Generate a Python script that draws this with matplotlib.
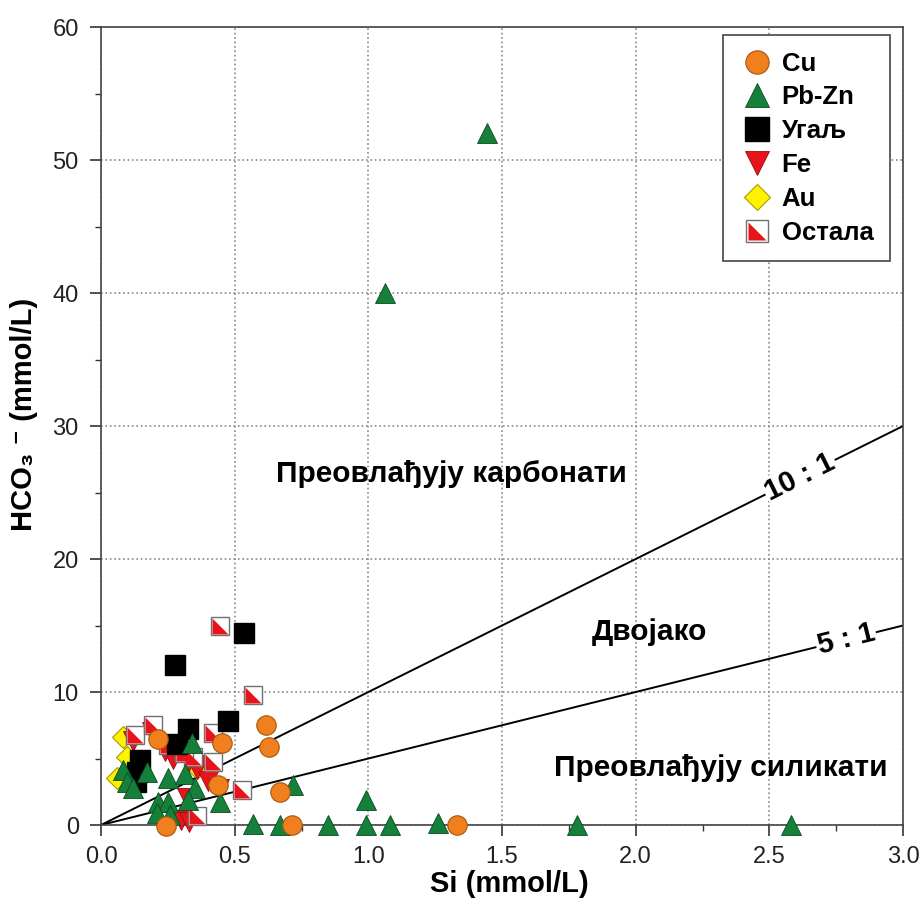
import numpy as np
import matplotlib
matplotlib.use('Agg')
import matplotlib.pyplot as plt
from matplotlib.path import Path as MPath
from matplotlib.ticker import MultipleLocator, FormatStrFormatter

plt.rcParams['font.family'] = ['Liberation Sans', 'DejaVu Sans']

# Si (mmol/L) vs HCO3- (mmol/L)
cu_si = [0.213, 0.453, 0.617, 0.628, 0.438, 0.67, 0.243, 0.715, 1.33]
cu_hco3 = [6.5, 6.2, 7.5, 5.9, 3.0, 2.5, -0.1, 0.0, 0.0]

pbzn_si = [1.444, 1.062, 0.718, 0.99, 0.85, 0.99, 1.08, 1.26, 0.57, 0.67, 1.78, 2.58,
           0.445, 0.083, 0.172, 0.097, 0.12, 0.25, 0.314, 0.35, 0.213, 0.25, 0.21,
           0.258, 0.325, 0.34]
pbzn_hco3 = [52.0, 40.0, 3.0, 1.9, 0.0, 0.0, 0.0, 0.15, 0.1, 0.0, 0.0, 0.0,
             1.7, 4.1, 4.0, 3.2, 2.8, 3.5, 3.8, 2.8, 1.7, 1.7, 0.9,
             0.75, 1.9, 6.2]

coal_si = [0.277, 0.535, 0.475, 0.325, 0.285, 0.146, 0.135, 0.13]
coal_hco3 = [12.0, 14.4, 7.8, 7.2, 6.1, 4.9, 4.0, 3.2]

fe_si = [0.12, 0.24, 0.27, 0.33, 0.36, 0.40, 0.40, 0.32, 0.30, 0.33, 0.19, 0.44]
fe_hco3 = [6.3, 5.6, 5.0, 4.8, 4.2, 4.5, 3.3, 2.0, 0.4, 0.2, 7.0, 2.7]

au_si = [0.06, 0.083, 0.097, 0.36]
au_hco3 = [3.5, 6.6, 5.1, 4.3]

other_si = [0.445, 0.57, 0.527, 0.127, 0.195, 0.345, 0.42, 0.42, 0.36, 0.31, 0.25]
other_hco3 = [15.0, 9.8, 2.6, 6.8, 7.5, 5.1, 4.7, 6.9, 0.7, 5.4, 6.0]

ratios = [10, 5]
ratio_labels = ['10 : 1', '5 : 1']
ratio_label_x = [2.615, 2.787]

# lower-left half of a square, used for "Остала"
half_tri = MPath([(-1, 1), (-1, -1), (1, -1), (-1, 1)],
                 [MPath.MOVETO, MPath.LINETO, MPath.LINETO, MPath.CLOSEPOLY])

fig = plt.figure(figsize=(9.21, 9.07), dpi=100)
ax = fig.add_axes([0.1097, 0.0904, 0.8708, 0.8798])
ax.set_xlim(0, 3.0)
ax.set_ylim(0, 60)

ms = 14
red = '#e8141c'
kw = dict(ls='none', clip_on=False)

h_au, = ax.plot(au_si, au_hco3, 'D', ms=ms - 3, mfc='#fff200', mec='#a89a00', mew=0.8, zorder=3, **kw)
h_fe, = ax.plot(fe_si, fe_hco3, 'v', ms=ms, mfc=red, mec='#9a0a0f', mew=0.6, zorder=4, **kw)
h_osq, = ax.plot(other_si, other_hco3, 's', ms=ms - 1, mfc='white', mec='#707070', mew=1.0, zorder=4, **kw)
h_otr, = ax.plot(other_si, other_hco3, marker=half_tri, ms=ms - 3, mfc=red, mec='none', zorder=4, **kw)
h_coal, = ax.plot(coal_si, coal_hco3, 's', ms=ms, mfc='black', mec='black', zorder=5, **kw)
h_pb, = ax.plot(pbzn_si, pbzn_hco3, '^', ms=ms, mfc='#14803a', mec='#0b4a20', mew=0.6, zorder=6, **kw)
h_cu, = ax.plot(cu_si, cu_hco3, 'o', ms=ms, mfc='#f07f1e', mec='#a8560f', mew=0.8, zorder=7, **kw)

ax.xaxis.set_major_locator(MultipleLocator(0.5))
ax.xaxis.set_minor_locator(MultipleLocator(0.25))
ax.xaxis.set_major_formatter(FormatStrFormatter('%.1f'))
ax.yaxis.set_major_locator(MultipleLocator(10))
ax.yaxis.set_minor_locator(MultipleLocator(5))
ax.tick_params(which='both', direction='out', colors='#333333', labelsize=17, labelcolor='#222222')
ax.tick_params(which='major', length=8, width=1.2)
ax.tick_params(which='minor', length=4, width=1.0)
ax.tick_params(axis='x', which='major', pad=7)
ax.tick_params(axis='y', which='major', pad=8)
ax.grid(True, which='major', ls=':', color='#888888', lw=1.2)
ax.set_axisbelow(True)
for s in ax.spines.values():
    s.set_color('#444444')
    s.set_linewidth(1.2)

# ratio lines through the origin, labels rotated to the on-screen slope
x_line = np.array([0.0, 3.0])
bbox = ax.get_position()
px_x = bbox.width * fig.get_figwidth() / 3.0
px_y = bbox.height * fig.get_figheight() / 60.0
for r, lab, lx in zip(ratios, ratio_labels, ratio_label_x):
    ax.plot(x_line, r * x_line, color='black', lw=1.4, zorder=2)
    ang = np.degrees(np.arctan(r * px_y / px_x))
    ax.text(lx, r * lx, lab, rotation=ang, rotation_mode='anchor',
            ha='center', va='center', fontsize=21,
            fontweight='bold', zorder=2.5,
            bbox=dict(facecolor='white', edgecolor='none', pad=1))

ax.text(1.31, 26.4, 'Преовлађују карбонати', ha='center', va='center', fontsize=21.5, fontweight='bold')
ax.text(2.05, 14.5, 'Двојако', ha='center', va='center', fontsize=21.5, fontweight='bold')
ax.text(2.32, 4.3, 'Преовлађују силикати', ha='center', va='center', fontsize=21.5, fontweight='bold')

ax.set_xlabel('Si (mmol/L)', fontsize=21, fontweight='bold')
ax.set_ylabel('HCO₃ ⁻ (mmol/L)', fontsize=21, fontweight='bold')
ax.xaxis.set_label_coords(0.509, -0.057)
ax.yaxis.set_label_coords(-0.079, 0.514)

leg = ax.legend([h_cu, h_pb, h_coal, h_fe, h_au, (h_osq, h_otr)],
                ['Cu', 'Pb-Zn', 'Угаљ', 'Fe', 'Au', 'Остала'],
                loc='upper right', bbox_to_anchor=(0.984, 0.99), borderaxespad=0,
                frameon=True, fancybox=False, edgecolor='#444444', framealpha=1,
                prop={'size': 18.5, 'weight': 'bold'}, labelspacing=0.38,
                handletextpad=0.25, borderpad=0.65, handlelength=1.4, markerscale=1.2)
leg.get_frame().set_linewidth(1.2)

fig.savefig('out.png', dpi=100)
